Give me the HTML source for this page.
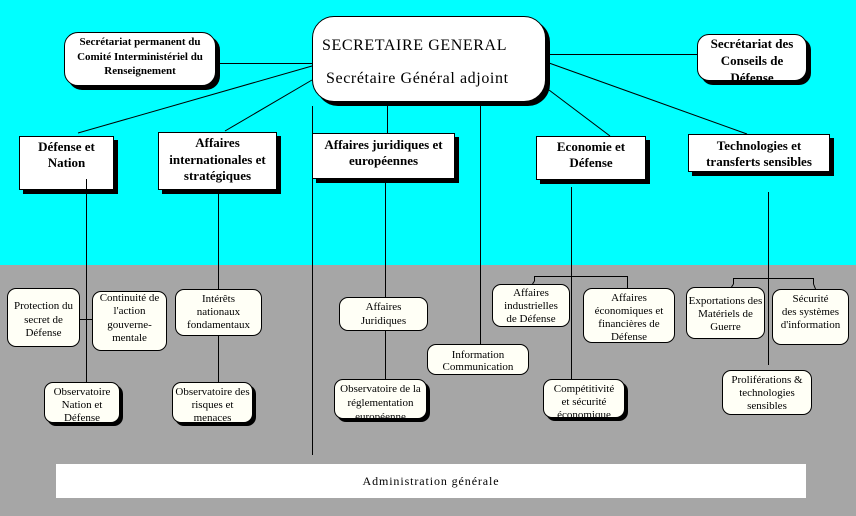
<!DOCTYPE html>
<html><head><meta charset="utf-8">
<style>
html,body{margin:0;padding:0;}
body{width:856px;height:516px;position:relative;overflow:hidden;background:#a6a6a6;font-family:"Liberation Serif",serif;color:#000;}
#cyan{position:absolute;left:0;top:0;width:856px;height:265px;background:#00ffff;}
.b{position:absolute;box-sizing:border-box;border:1px solid #000;text-align:center;overflow:hidden;white-space:nowrap;}
.top{background:#fff;font-weight:bold;font-size:13px;box-shadow:4px 4px 0 #000;}
.low{background:#fffff6;font-size:11px;border-radius:9px;line-height:13px;}
.sh{box-shadow:3px 3px 0 #000;}
svg{position:absolute;left:0;top:0;z-index:5;}
</style></head><body>
<div id="cyan"></div>

<!-- main box -->
<div class="b" style="left:312px;top:16px;width:234px;height:86px;border-radius:22px;background:#fff;box-shadow:4px 4px 0 #000;"></div>
<div style="position:absolute;left:322px;top:36px;font-size:16px;letter-spacing:0.6px;line-height:20px;white-space:nowrap;">SECRETAIRE GENERAL</div>
<div style="position:absolute;left:326px;top:69px;font-size:16px;letter-spacing:0.6px;line-height:20px;white-space:nowrap;">Secrétaire Général adjoint</div>

<!-- side rounded boxes -->
<div class="b top" style="left:64px;top:32px;width:152px;height:54px;border-radius:14px;font-size:11px;line-height:14.5px;padding-top:2px;">Secrétariat permanent du<br>Comité Interministériel du<br>Renseignement</div>
<div class="b top" style="left:697px;top:34px;width:110px;height:47px;border-radius:12px;line-height:17px;padding-top:0px;">Secrétariat des<br>Conseils de<br>Défense</div>

<!-- top rectangular boxes -->
<div class="b top" style="left:19px;top:136px;width:95px;height:54px;line-height:16px;padding-top:2px;">Défense et<br>Nation</div>
<div class="b top" style="left:158px;top:132px;width:119px;height:58px;line-height:16.5px;padding-top:2px;">Affaires<br>internationales et<br>stratégiques</div>
<div class="b top" style="left:312px;top:133px;width:143px;height:46px;line-height:16px;padding-top:3px;">Affaires juridiques et<br>européennes</div>
<div class="b top" style="left:536px;top:136px;width:110px;height:44px;line-height:16px;padding-top:2px;">Economie et<br>Défense</div>
<div class="b top" style="left:688px;top:134px;width:142px;height:38px;line-height:16px;padding-top:3px;">Technologies et<br>transferts sensibles</div>

<!-- lower boxes -->
<div class="b low" style="left:7px;top:288px;width:73px;height:59px;line-height:13.5px;padding-top:11px;">Protection du<br>secret de<br>Défense</div>
<div class="b low" style="left:92px;top:291px;width:75px;height:60px;line-height:13.3px;padding-top:0px;">Continuité de<br>l'action<br>gouverne-<br>mentale</div>
<div class="b low sh" style="left:44px;top:382px;width:76px;height:41px;padding-top:2.5px;">Observatoire<br>Nation et<br>Défense</div>
<div class="b low" style="left:175px;top:289px;width:87px;height:47px;padding-top:2.5px;">Intérêts<br>nationaux<br>fondamentaux</div>
<div class="b low sh" style="left:172px;top:382px;width:81px;height:41px;padding-top:2.5px;">Observatoire des<br>risques et<br>menaces</div>
<div class="b low" style="left:339px;top:297px;width:89px;height:34px;line-height:14px;padding-top:2px;">Affaires<br>Juridiques</div>
<div class="b low sh" style="left:334px;top:379px;width:93px;height:40px;line-height:14px;padding-top:2px;">Observatoire de la<br>réglementation<br>européenne</div>
<div class="b low" style="left:427px;top:344px;width:102px;height:31px;line-height:12.5px;padding-top:3.5px;">Information<br>Communication</div>
<div class="b low" style="left:492px;top:284px;width:78px;height:43px;padding-top:1.5px;">Affaires<br>industrielles<br>de Défense</div>
<div class="b low" style="left:583px;top:288px;width:92px;height:55px;padding-top:2.5px;">Affaires<br>économiques et<br>financières de<br>Défense</div>
<div class="b low sh" style="left:543px;top:379px;width:82px;height:39px;padding-top:2.5px;">Compétitivité<br>et sécurité<br>économique</div>
<div class="b low" style="left:686px;top:287px;width:79px;height:52px;padding-top:6.5px;">Exportations des<br>Matériels de<br>Guerre</div>
<div class="b low" style="left:772px;top:289px;width:77px;height:56px;padding-top:2.5px;">Sécurité<br>des systèmes<br>d'information</div>
<div class="b low" style="left:722px;top:370px;width:90px;height:45px;padding-top:2.5px;">Proliférations &amp;<br>technologies<br>sensibles</div>

<!-- admin -->
<div style="position:absolute;left:56px;top:464px;width:750px;height:34px;background:#fff;text-align:center;font-size:12px;letter-spacing:0.9px;line-height:34px;">Administration générale</div>

<svg width="856" height="516" viewBox="0 0 856 516">
<g stroke="#000" stroke-width="1" fill="none">
<line x1="220" y1="63.5" x2="312" y2="63.5"/>
<line x1="549" y1="54.5" x2="697" y2="54.5"/>
<line x1="312" y1="66" x2="78" y2="133"/>
<line x1="312" y1="80" x2="225" y2="131"/>
<line x1="549" y1="63" x2="747" y2="134"/>
<line x1="549" y1="90" x2="610" y2="136"/>
<g shape-rendering="crispEdges">
<line x1="387.5" y1="106" x2="387.5" y2="133"/>
<line x1="312.5" y1="106" x2="312.5" y2="455"/>
<line x1="480.5" y1="106" x2="480.5" y2="344"/>
<line x1="86.5" y1="179" x2="86.5" y2="382"/>
<line x1="80" y1="319.5" x2="92" y2="319.5"/>
<line x1="218.5" y1="194" x2="218.5" y2="289"/>
<line x1="218.5" y1="336" x2="218.5" y2="382"/>
<line x1="385.5" y1="183" x2="385.5" y2="297"/>
<line x1="385.5" y1="331" x2="385.5" y2="379"/>
<line x1="571.5" y1="187" x2="571.5" y2="379"/>
<line x1="768.5" y1="192" x2="768.5" y2="365"/>
<line x1="534" y1="276.5" x2="628" y2="276.5"/>
<line x1="627.5" y1="276" x2="627.5" y2="288"/>
<line x1="534.5" y1="276" x2="534.5" y2="281"/>
<line x1="733" y1="278.5" x2="814" y2="278.5"/>
<line x1="733.5" y1="278" x2="733.5" y2="284"/>
<line x1="813.5" y1="278" x2="813.5" y2="284"/>
</g>
<line x1="534.5" y1="281" x2="532.5" y2="284"/>
<line x1="733.5" y1="284" x2="731.5" y2="287"/>
<line x1="813.5" y1="284" x2="815.5" y2="289"/>
</g>
</svg>
</body></html>
